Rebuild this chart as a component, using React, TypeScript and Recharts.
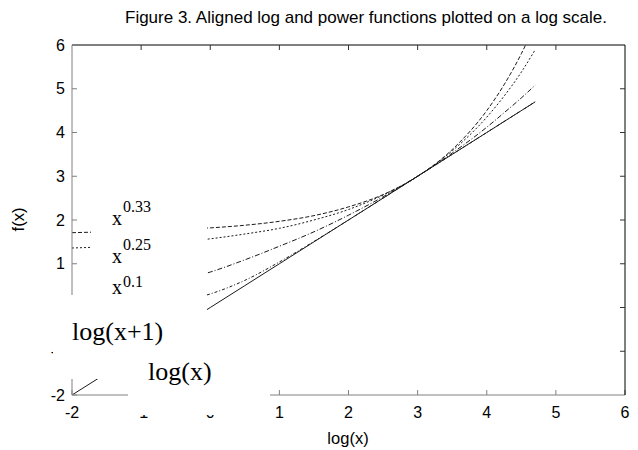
import { LineChart, Line, XAxis, YAxis } from 'recharts'

const logX = [-2, -1.5, -1, -0.5, 0, 0.5, 1, 1.5, 2, 2.5, 3, 3.5, 4, 4.25, 4.5, 4.7]

// aligned function values
const pow033 = [1.71, 1.73, 1.75, 1.78, 1.82, 1.88, 1.97, 2.1, 2.3, 2.58, 3, 3.61, 4.5, 5.09, 5.8, 6.47]
const pow025 = [1.36, 1.39, 1.44, 1.49, 1.57, 1.68, 1.81, 2.0, 2.24, 2.57, 3, 3.58, 4.35, 4.83, 5.38, 5.89]
const pow01 = [0.03, 0.2, 0.39, 0.6, 0.81, 1.09, 1.4, 1.73, 2.11, 2.53, 3, 3.53, 4.12, 4.45, 4.79, 5.08]
const logXPlus1 = [0.0, 0.01, 0.04, 0.12, 0.31, 0.62, 1.04, 1.51, 2.0, 2.5, 3, 3.5, 4, 4.25, 4.5, 4.7]
const logLine = [-2, -1.5, -1, -0.5, 0, 0.5, 1, 1.5, 2, 2.5, 3, 3.5, 4, 4.25, 4.5, 4.7]

const xTicks = [-2, -1, 0, 1, 2, 3, 4, 5, 6]
const yTicks = [-2, -1, 0, 1, 2, 3, 4, 5, 6]

const data = logX.map((u, i) => ({
  u,
  p33: pow033[i],
  p25: pow025[i],
  p10: pow01[i],
  lx1: logXPlus1[i],
  lx: logLine[i],
}))

const sans = '"Liberation Sans", Arial, sans-serif'
const serif = '"Liberation Serif", "Times New Roman", serif'
const ink = '#1a1a1a'

const W = 630
const H = 442
const M = { top: 36, right: 12, bottom: 25, left: 0 }
const plotTop = M.top + 1
const plotRight = W - M.right - 1

// inward tick marks on the mirror axes, placed by the axis scale (payload.coordinate)
const TopTick = ({ payload }: any) => (
  <line x1={payload.coordinate} x2={payload.coordinate} y1={plotTop} y2={plotTop + 5} stroke="#333" />
)
const RightTick = ({ payload }: any) => (
  <line x1={plotRight} x2={plotRight - 5} y1={payload.coordinate} y2={payload.coordinate} stroke="#333" />
)

export default function App() {
  return (
    <div style={{ position: 'relative', width: W, height: H, fontFamily: sans, color: '#000' }}>
      <div style={{ position: 'absolute', top: 0, left: 358, transform: 'translateX(-50%)', whiteSpace: 'nowrap', fontSize: 17 }}>
        Figure 3. Aligned log and power functions plotted on a log scale.
      </div>
      <div style={{ position: 'absolute', top: 421, left: 340, transform: 'translateX(-50%)', fontSize: 16.5 }}>log(x)</div>
      <div style={{ position: 'absolute', top: 202, left: 10, transform: 'translateX(-50%) rotate(-90deg)', fontSize: 16.5 }}>f(x)</div>

      <LineChart width={W} height={H} data={data} margin={M}>
        <XAxis dataKey="u" type="number" domain={[-2, 6]} ticks={xTicks} height={30} stroke="#808080"
          tickSize={-5} tickMargin={17} tick={{ fill: '#000', fontSize: 16, fontFamily: sans }} allowDataOverflow />
        <XAxis xAxisId="top" dataKey="u" orientation="top" type="number" domain={[-2, 6]} ticks={xTicks.slice(1, -1)} height={1}
          tickLine={false} tick={<TopTick />} stroke="#000" allowDataOverflow />
        <YAxis type="number" domain={[-2, 6]} ticks={yTicks} width={64} stroke="#808080"
          tickSize={-5} tickMargin={12} tick={{ fill: '#000', fontSize: 16, fontFamily: sans }} allowDataOverflow />
        <YAxis yAxisId="right" orientation="right" type="number" domain={[-2, 6]} ticks={yTicks.slice(1, -1)} width={1}
          tickLine={false} tick={<RightTick />} stroke="#000" allowDataOverflow />
        <Line type="monotone" dataKey="p33" stroke={ink} strokeWidth={1} strokeDasharray="4 2" dot={false} activeDot={false} isAnimationActive={false} />
        <Line type="monotone" dataKey="p25" stroke={ink} strokeWidth={1} strokeDasharray="2 2" dot={false} activeDot={false} isAnimationActive={false} />
        <Line type="monotone" dataKey="p10" stroke={ink} strokeWidth={1} strokeDasharray="5 2 1 2" dot={false} activeDot={false} isAnimationActive={false} />
        <Line type="monotone" dataKey="lx1" stroke={ink} strokeWidth={1} strokeDasharray="3 2 1 2" dot={false} activeDot={false} isAnimationActive={false} />
        <Line xAxisId="top" yAxisId="right" type="monotone" dataKey="lx" stroke={ink} strokeWidth={1} dot={false} activeDot={false} isAnimationActive={false} />
      </LineChart>

      <svg width={W} height={H} style={{ position: 'absolute', top: 0, left: 0, pointerEvents: 'none' }}>
        <rect x={83} y={185} width={116} height={111} fill="#fff" />
        <text x={104} y={217} fontFamily={serif} fontSize={20}>x</text>
        <text x={115} y={204} fontFamily={serif} fontSize={16}>0.33</text>
        <text x={104} y={255} fontFamily={serif} fontSize={20}>x</text>
        <text x={115} y={242} fontFamily={serif} fontSize={16}>0.25</text>
        <text x={104} y={286} fontFamily={serif} fontSize={20}>x</text>
        <text x={115} y={279} fontFamily={serif} fontSize={16}>0.1</text>

        <rect x={45} y={287} width={154} height={84} fill="#fff" />
        <text x={64} y={332} fontFamily={serif} fontSize={26}>log(x+1)</text>

        <rect x={120} y={340} width={142} height={67} fill="#fff" />
        <text x={140} y={372} fontFamily={serif} fontSize={26}>log(x)</text>
      </svg>
    </div>
  )
}
